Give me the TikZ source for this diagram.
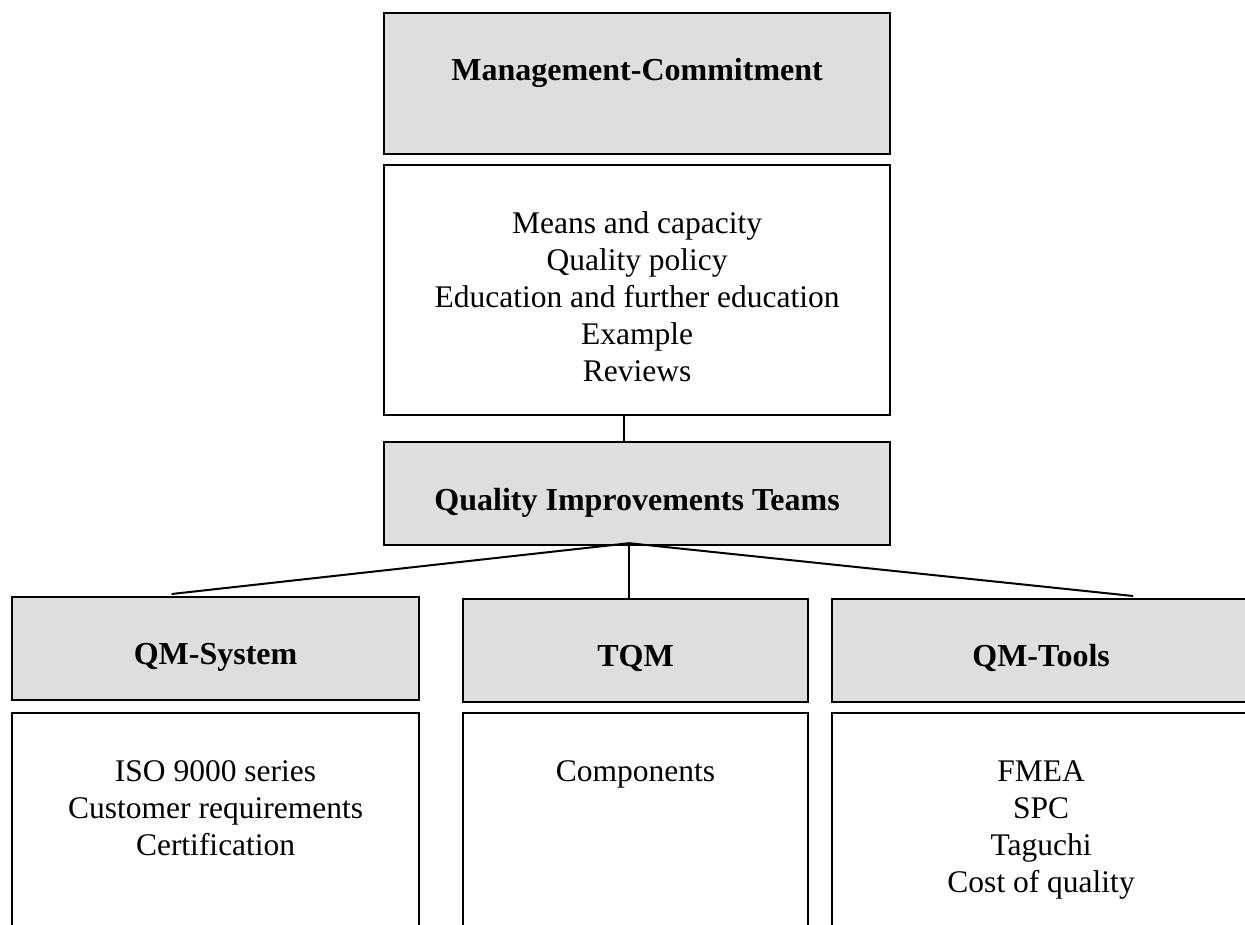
\documentclass[tikz,border=0pt]{standalone}
\usepackage{fontspec}
\setmainfont{Liberation Serif}
\usepackage{xcolor}
\definecolor{boxgray}{RGB}{222,222,222}
\usepackage{tikz}
\usetikzlibrary{calc}
\newcommand{\headfont}{\fontsize{32}{37}\selectfont\bfseries}
\newcommand{\listfont}{\fontsize{31.5}{37}\selectfont}
\newcommand{\stacklines}[1]{\begin{tabular}[t]{@{}c@{}}#1\end{tabular}}
\tikzset{
    common/.style={draw, line width=2.2pt, anchor=north west, inner sep=0pt},
    head/.style={common, fill=boxgray, font=\headfont, text height=67pt, text depth=36pt},
    list/.style={common, fill=white, font=\listfont, text height=68pt},
    link/.style={line width=2pt}
}
\begin{document}
\begin{tikzpicture}[x=1pt, y=-1pt]
    \useasboundingbox (0,0) rectangle (1245,924);
    % top column
    \node[head, minimum width=506, text depth=74pt] (mgmt) at (383,12) {Management-Commitment};
    \node[list, minimum width=506, text depth=182pt] (means) at (383,164)
        {\stacklines{Means and capacity\\Quality policy\\Education and further education\\Example\\Reviews}};
    \node[head, minimum width=506, text height=68pt, text depth=35pt] (qit) at (383,441) {Quality Improvements Teams};

    % three branches
    \node[head, minimum width=407] (qms) at (11,596) {QM-System};
    \node[head, minimum width=345] (tqm) at (462,598) {TQM};
    \node[head, minimum width=418] (tools) at (831,598) {QM-Tools};

    \node[list, minimum width=407, text depth=230pt] (qmslist) at (11,712)
        {\stacklines{ISO 9000 series\\Customer requirements\\Certification}};
    \node[list, minimum width=345, text depth=230pt] (tqmlist) at (462,712)
        {\stacklines{Components}};
    \node[list, minimum width=418, text depth=230pt] (toolslist) at (831,712)
        {\stacklines{FMEA\\SPC\\Taguchi\\Cost of quality}};

    \draw[link] ([xshift=-13pt]means.south) -- ([xshift=-13pt]qit.north);
    \coordinate (fan) at ([xshift=-8pt, yshift=3pt]qit.south);
    \draw[link] (fan) -- ([xshift=-44pt, yshift=2pt]qms.north);
    \draw[link] (fan) -- (fan |- tqm.north);
    \draw[link] (fan) -- ([xshift=92pt, yshift=2pt]tools.north);
\end{tikzpicture}
\end{document}
